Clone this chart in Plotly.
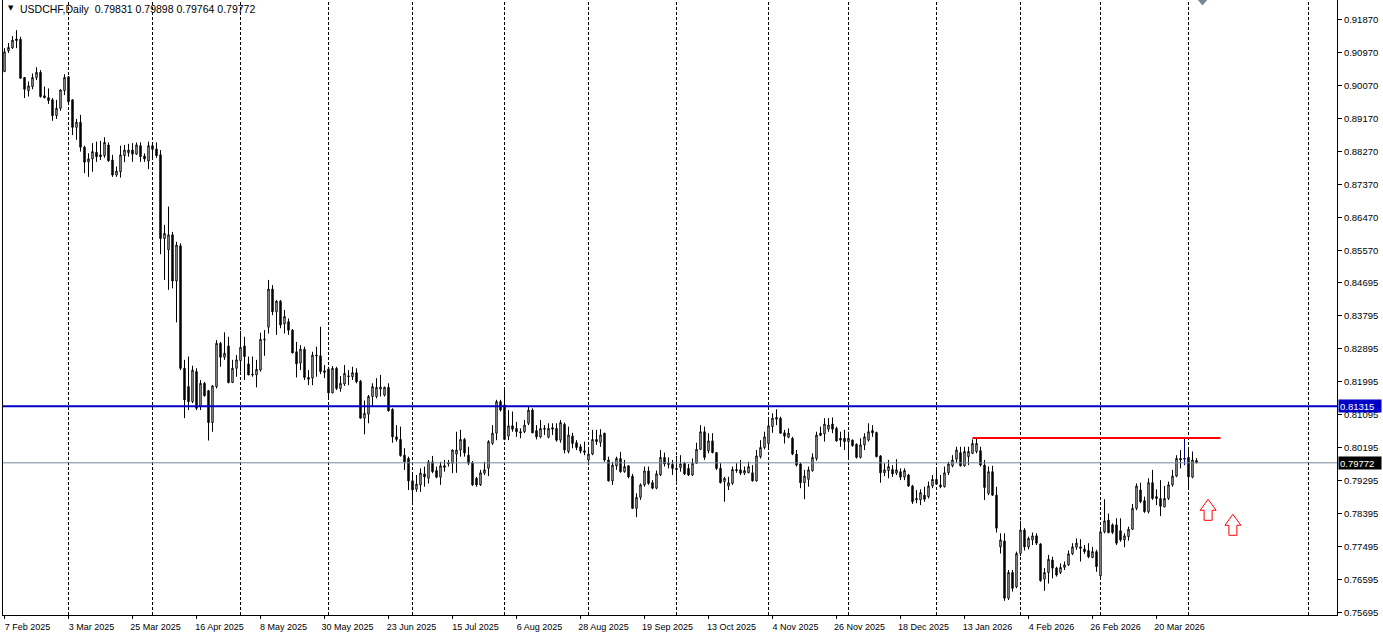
import plotly.graph_objects as go

symbol = "USDCHF,Daily"

opens = [
    0.9044, 0.9101, 0.9109, 0.9133, 0.9132, 0.9028, 0.8992, 0.9003, 0.9028, 0.9042,
    0.8978, 0.8973, 0.8967, 0.8924, 0.8944, 0.8992, 0.9030, 0.8967, 0.8892, 0.8906,
    0.8838, 0.8798, 0.8806, 0.8824, 0.8817, 0.8815, 0.8844, 0.8803, 0.8762, 0.8771,
    0.8815, 0.8823, 0.8830, 0.8819, 0.8842, 0.8814, 0.8800, 0.8842, 0.8833, 0.8817,
    0.8589, 0.8558, 0.8599, 0.8473, 0.8569, 0.8235, 0.8185, 0.8144, 0.8226, 0.8130,
    0.8194, 0.8174, 0.8087, 0.8185, 0.8303, 0.8265, 0.8296, 0.8196, 0.8235, 0.8256,
    0.8296, 0.8247, 0.8219, 0.8217, 0.8230, 0.8312, 0.8347, 0.8451, 0.8389, 0.8418,
    0.8356, 0.8362, 0.8339, 0.8280, 0.8249, 0.8287, 0.8210, 0.8208, 0.8271, 0.8269,
    0.8228, 0.8233, 0.8168, 0.8235, 0.8180, 0.8192, 0.8212, 0.8212, 0.8223, 0.8200,
    0.8099, 0.8110, 0.8158, 0.8158, 0.8178, 0.8162, 0.8183, 0.8123, 0.8048, 0.8041,
    0.7998, 0.7989, 0.7928, 0.7905, 0.7917, 0.7947, 0.7935, 0.7980, 0.7956, 0.7938,
    0.7969, 0.7974, 0.7976, 0.8001, 0.8012, 0.8041, 0.7998, 0.7977, 0.7935, 0.7917,
    0.7949, 0.7962, 0.8030, 0.8058, 0.8144, 0.8135, 0.8050, 0.8078, 0.8071, 0.8062,
    0.8062, 0.8085, 0.8121, 0.8065, 0.8048, 0.8071, 0.8047, 0.8073, 0.8071, 0.8039,
    0.8082, 0.8008, 0.8050, 0.8032, 0.8021, 0.8010, 0.7985, 0.8001, 0.8041, 0.8033,
    0.8058, 0.7985, 0.7928, 0.7969, 0.7989, 0.7953, 0.7969, 0.7941, 0.7853, 0.7883,
    0.7917, 0.7955, 0.7923, 0.7908, 0.7944, 0.7992, 0.7976, 0.7973, 0.7962, 0.7964,
    0.7976, 0.7962, 0.7944, 0.7976, 0.8014, 0.8062, 0.8010, 0.8037, 0.8005, 0.7962,
    0.7926, 0.7914, 0.7921, 0.7959, 0.7958, 0.7949, 0.7950, 0.7950, 0.7928, 0.7994,
    0.8019, 0.8030, 0.8076, 0.8096, 0.8099, 0.8059, 0.8047, 0.8044, 0.8001, 0.7974,
    0.7923, 0.7932, 0.7956, 0.7989, 0.8058, 0.8056, 0.8069, 0.8083, 0.8071, 0.8044,
    0.8044, 0.8035, 0.8039, 0.8028, 0.7992, 0.8026, 0.8039, 0.8065, 0.8060, 0.7996,
    0.7950, 0.7956, 0.7959, 0.7949, 0.7953, 0.7938, 0.7944, 0.7914, 0.7876, 0.7876,
    0.7889, 0.7885, 0.7914, 0.7932, 0.7917, 0.7912, 0.7950, 0.7969, 0.7987, 0.8005,
    0.7969, 0.7994, 0.8003, 0.8008, 0.8010, 0.7971, 0.7894, 0.7953, 0.7889, 0.7748,
    0.7764, 0.7608, 0.7678, 0.7639, 0.7730, 0.7794, 0.7748, 0.7767, 0.7778, 0.7756,
    0.7660, 0.7678, 0.7712, 0.7690, 0.7678, 0.7692, 0.7699, 0.7729, 0.7747, 0.7748,
    0.7742, 0.7738, 0.7719, 0.7735, 0.7669, 0.7789, 0.7821, 0.7808, 0.7808, 0.7792,
    0.7767, 0.7776, 0.7796, 0.7853, 0.7903, 0.7874, 0.7844, 0.7923, 0.7885, 0.7880,
    0.7857, 0.7880, 0.7917, 0.7941, 0.7989, 0.7989, 0.7992, 0.7938, 0.79831,
]

highs = [
    0.9108, 0.9122, 0.9141, 0.9157, 0.9139, 0.9029, 0.9017, 0.9039, 0.9056, 0.9048,
    0.9003, 0.8998, 0.8972, 0.8967, 0.8996, 0.9037, 0.9032, 0.8969, 0.8915, 0.8926,
    0.8842, 0.8821, 0.8849, 0.8853, 0.8855, 0.8865, 0.8851, 0.8817, 0.8785, 0.8842,
    0.8844, 0.8847, 0.8849, 0.8851, 0.8851, 0.8821, 0.8853, 0.8849, 0.8851, 0.8830,
    0.8626, 0.8676, 0.8607, 0.8580, 0.8576, 0.8258, 0.8267, 0.8242, 0.8235, 0.8203,
    0.8198, 0.8176, 0.8189, 0.8312, 0.8307, 0.8333, 0.8321, 0.8258, 0.8271, 0.8337,
    0.8321, 0.8267, 0.8267, 0.8258, 0.8332, 0.8339, 0.8476, 0.8462, 0.8421, 0.8421,
    0.8394, 0.8371, 0.8342, 0.8307, 0.8298, 0.8294, 0.8230, 0.8280, 0.8294, 0.8348,
    0.8244, 0.8239, 0.8241, 0.8239, 0.8214, 0.8244, 0.8230, 0.8239, 0.8235, 0.8203,
    0.8147, 0.8162, 0.8194, 0.8208, 0.8217, 0.8185, 0.8194, 0.8126, 0.8080, 0.8076,
    0.8017, 0.7994, 0.7949, 0.7944, 0.7962, 0.7967, 0.7985, 0.7996, 0.7967, 0.7980,
    0.7985, 0.7985, 0.8014, 0.8062, 0.8067, 0.8045, 0.8021, 0.7982, 0.7939, 0.7958,
    0.7980, 0.8039, 0.8080, 0.8149, 0.8149, 0.8181, 0.8121, 0.8117, 0.8089, 0.8071,
    0.8094, 0.8132, 0.8126, 0.8080, 0.8094, 0.8080, 0.8085, 0.8085, 0.8085, 0.8094,
    0.8087, 0.8076, 0.8059, 0.8039, 0.8028, 0.8035, 0.8017, 0.8067, 0.8067, 0.8069,
    0.8059, 0.7994, 0.7980, 0.7994, 0.8007, 0.7985, 0.7971, 0.7947, 0.7894, 0.7921,
    0.7967, 0.7967, 0.7930, 0.7956, 0.8012, 0.8005, 0.7992, 0.7985, 0.7996, 0.7998,
    0.7980, 0.7974, 0.7989, 0.8032, 0.8080, 0.8076, 0.8058, 0.8058, 0.8007, 0.7976,
    0.7939, 0.7939, 0.7967, 0.7976, 0.7985, 0.7967, 0.7980, 0.7971, 0.8012, 0.8039,
    0.8062, 0.8094, 0.8112, 0.8123, 0.8103, 0.8067, 0.8071, 0.8048, 0.8012, 0.7978,
    0.7958, 0.7967, 0.8003, 0.8062, 0.8076, 0.8099, 0.8099, 0.8101, 0.8076, 0.8062,
    0.8067, 0.8062, 0.8041, 0.8030, 0.8044, 0.8058, 0.8085, 0.8080, 0.8062, 0.7998,
    0.7976, 0.7985, 0.7971, 0.7987, 0.7962, 0.7962, 0.7947, 0.7917, 0.7903, 0.7905,
    0.7912, 0.7926, 0.7944, 0.7962, 0.7944, 0.7967, 0.7980, 0.7998, 0.8021, 0.8021,
    0.8021, 0.8021, 0.8041, 0.8045, 0.8021, 0.7985, 0.7967, 0.7969, 0.7912, 0.7785,
    0.7785, 0.7685, 0.7685, 0.7735, 0.7819, 0.7799, 0.7776, 0.7787, 0.7785, 0.7758,
    0.7690, 0.7726, 0.7721, 0.7694, 0.7703, 0.7708, 0.7738, 0.7758, 0.7771, 0.7769,
    0.7753, 0.7758, 0.7748, 0.7740, 0.7794, 0.7878, 0.7839, 0.7812, 0.7826, 0.7826,
    0.7785, 0.7803, 0.7865, 0.7921, 0.7923, 0.7885, 0.7935, 0.7958, 0.7905, 0.7930,
    0.7914, 0.7926, 0.7958, 0.7998, 0.8012, 0.8045, 0.8012, 0.8008, 0.79898,
]

lows = [
    0.9043, 0.9095, 0.9106, 0.9108, 0.9025, 0.8972, 0.8976, 0.8996, 0.9021, 0.8973,
    0.8971, 0.8956, 0.8910, 0.8915, 0.8937, 0.8980, 0.8953, 0.8871, 0.8858, 0.8826,
    0.8767, 0.8757, 0.8771, 0.8798, 0.8803, 0.8809, 0.8798, 0.8757, 0.8757, 0.8755,
    0.8797, 0.8812, 0.8798, 0.8817, 0.8798, 0.8798, 0.8778, 0.8808, 0.8809, 0.8546,
    0.8476, 0.8449, 0.8453, 0.8360, 0.8230, 0.8099, 0.8121, 0.8140, 0.8121, 0.8121,
    0.8158, 0.8038, 0.8062, 0.8180, 0.8239, 0.8258, 0.8194, 0.8195, 0.8212, 0.8226,
    0.8203, 0.8216, 0.8212, 0.8183, 0.8226, 0.8269, 0.8330, 0.8380, 0.8326, 0.8344,
    0.8330, 0.8326, 0.8276, 0.8210, 0.8230, 0.8203, 0.8189, 0.8189, 0.8212, 0.8219,
    0.8208, 0.8153, 0.8167, 0.8176, 0.8171, 0.8187, 0.8189, 0.8203, 0.8194, 0.8098,
    0.8055, 0.8085, 0.8132, 0.8153, 0.8158, 0.8158, 0.8117, 0.8032, 0.8035, 0.7994,
    0.7958, 0.7903, 0.7871, 0.7898, 0.7898, 0.7912, 0.7921, 0.7949, 0.7935, 0.7917,
    0.7953, 0.7967, 0.7949, 0.7950, 0.7994, 0.7994, 0.7971, 0.7914, 0.7912, 0.7914,
    0.7944, 0.7941, 0.8026, 0.8039, 0.8117, 0.8039, 0.8039, 0.8062, 0.8048, 0.8044,
    0.8058, 0.8080, 0.8058, 0.8041, 0.8044, 0.8053, 0.8044, 0.8053, 0.8035, 0.8032,
    0.8003, 0.8003, 0.8017, 0.8012, 0.8003, 0.7998, 0.7980, 0.7998, 0.8026, 0.8021,
    0.7980, 0.7926, 0.7917, 0.7958, 0.7950, 0.7950, 0.7935, 0.7852, 0.7829, 0.7876,
    0.7912, 0.7917, 0.7905, 0.7905, 0.7941, 0.7967, 0.7962, 0.7944, 0.7926, 0.7953,
    0.7944, 0.7941, 0.7941, 0.7974, 0.8012, 0.7985, 0.8003, 0.8003, 0.7958, 0.7921,
    0.7871, 0.7903, 0.7917, 0.7950, 0.7944, 0.7944, 0.7949, 0.7926, 0.7926, 0.7989,
    0.8014, 0.8012, 0.8059, 0.8080, 0.8056, 0.8030, 0.8044, 0.7998, 0.7967, 0.7908,
    0.7878, 0.7912, 0.7953, 0.7983, 0.8050, 0.8035, 0.8062, 0.8058, 0.8035, 0.8021,
    0.8012, 0.7989, 0.8021, 0.7989, 0.7989, 0.8012, 0.8035, 0.8048, 0.7992, 0.7923,
    0.7941, 0.7935, 0.7939, 0.7944, 0.7930, 0.7930, 0.7912, 0.7865, 0.7867, 0.7862,
    0.7871, 0.7880, 0.7908, 0.7917, 0.7908, 0.7910, 0.7944, 0.7965, 0.7977, 0.7967,
    0.7967, 0.7971, 0.8001, 0.8003, 0.7967, 0.7876, 0.7889, 0.7887, 0.7787, 0.7730,
    0.7601, 0.7603, 0.7626, 0.7635, 0.7723, 0.7738, 0.7741, 0.7753, 0.7753, 0.7653,
    0.7628, 0.7648, 0.7662, 0.7667, 0.7674, 0.7685, 0.7696, 0.7726, 0.7740, 0.7708,
    0.7729, 0.7717, 0.7717, 0.7680, 0.7662, 0.7785, 0.7785, 0.7783, 0.7753, 0.7762,
    0.7747, 0.7765, 0.7794, 0.7848, 0.7867, 0.7841, 0.7839, 0.7876, 0.7862, 0.7832,
    0.7856, 0.7876, 0.7912, 0.7938, 0.7962, 0.7971, 0.7905, 0.7935, 0.79764,
]

closes = [
    0.9098, 0.9110, 0.9130, 0.9129, 0.9026, 0.8996, 0.9005, 0.9028, 0.9042, 0.8976,
    0.8973, 0.8965, 0.8924, 0.8944, 0.8994, 0.9028, 0.8962, 0.8892, 0.8906, 0.8838,
    0.8797, 0.8806, 0.8826, 0.8812, 0.8812, 0.8851, 0.8801, 0.8762, 0.8773, 0.8817,
    0.8830, 0.8830, 0.8819, 0.8844, 0.8812, 0.8806, 0.8842, 0.8832, 0.8815, 0.8589,
    0.8603, 0.8599, 0.8473, 0.8571, 0.8235, 0.8149, 0.8144, 0.8230, 0.8126, 0.8194,
    0.8160, 0.8087, 0.8187, 0.8303, 0.8265, 0.8276, 0.8196, 0.8235, 0.8258, 0.8292,
    0.8267, 0.8217, 0.8217, 0.8232, 0.8314, 0.8314, 0.8451, 0.8389, 0.8418, 0.8353,
    0.8376, 0.8339, 0.8277, 0.8247, 0.8287, 0.8210, 0.8205, 0.8271, 0.8269, 0.8226,
    0.8224, 0.8168, 0.8235, 0.8180, 0.8194, 0.8221, 0.8214, 0.8223, 0.8198, 0.8099,
    0.8112, 0.8158, 0.8185, 0.8183, 0.8184, 0.8183, 0.8119, 0.8048, 0.8041, 0.7997,
    0.7980, 0.7928, 0.7903, 0.7919, 0.7949, 0.7939, 0.7980, 0.7953, 0.7938, 0.7969,
    0.7965, 0.7978, 0.8012, 0.8012, 0.8041, 0.8004, 0.7976, 0.7917, 0.7917, 0.7950,
    0.7958, 0.8035, 0.8058, 0.8144, 0.8121, 0.8041, 0.8078, 0.8069, 0.8062, 0.8059,
    0.8080, 0.8121, 0.8059, 0.8048, 0.8071, 0.8069, 0.8071, 0.8069, 0.8039, 0.8087,
    0.8012, 0.8053, 0.8030, 0.8019, 0.8009, 0.8006, 0.8001, 0.8041, 0.8035, 0.8053,
    0.7985, 0.7928, 0.7971, 0.7989, 0.7953, 0.7967, 0.7939, 0.7853, 0.7883, 0.7917,
    0.7955, 0.7921, 0.7908, 0.7947, 0.7992, 0.7974, 0.7973, 0.7962, 0.7959, 0.7974,
    0.7947, 0.7944, 0.7976, 0.8014, 0.8062, 0.7992, 0.8037, 0.8005, 0.7962, 0.7923,
    0.7935, 0.7923, 0.7959, 0.7956, 0.7949, 0.7956, 0.7967, 0.7928, 0.7996, 0.8019,
    0.8048, 0.8078, 0.8099, 0.8101, 0.8058, 0.8050, 0.8058, 0.8001, 0.7971, 0.7923,
    0.7941, 0.7958, 0.7992, 0.8053, 0.8052, 0.8083, 0.8080, 0.8069, 0.8037, 0.8039,
    0.8035, 0.8044, 0.8024, 0.7992, 0.8026, 0.8048, 0.8062, 0.8059, 0.7994, 0.7950,
    0.7958, 0.7967, 0.7947, 0.7958, 0.7938, 0.7956, 0.7914, 0.7871, 0.7880, 0.7896,
    0.7878, 0.7914, 0.7932, 0.7919, 0.7912, 0.7950, 0.7974, 0.7985, 0.8012, 0.7969,
    0.8008, 0.8008, 0.8030, 0.8030, 0.7971, 0.7910, 0.7953, 0.7889, 0.7799, 0.7767,
    0.7608, 0.7678, 0.7635, 0.7730, 0.7794, 0.7748, 0.7771, 0.7778, 0.7758, 0.7656,
    0.7678, 0.7714, 0.7690, 0.7671, 0.7692, 0.7699, 0.7729, 0.7748, 0.7758, 0.7744,
    0.7735, 0.7721, 0.7735, 0.7694, 0.7789, 0.7819, 0.7787, 0.7787, 0.7758, 0.7767,
    0.7778, 0.7796, 0.7853, 0.7914, 0.7871, 0.7844, 0.7923, 0.7880, 0.7880, 0.7859,
    0.7880, 0.7917, 0.7941, 0.7989, 0.7985, 0.7988, 0.7939, 0.7985, 0.79772,
]

# date labels under the chart (one every 16 bars)
date_labels = [
    "7 Feb 2025", "3 Mar 2025", "25 Mar 2025", "16 Apr 2025", "8 May 2025",
    "30 May 2025", "23 Jun 2025", "15 Jul 2025", "6 Aug 2025", "28 Aug 2025",
    "19 Sep 2025", "13 Oct 2025", "4 Nov 2025", "26 Nov 2025", "18 Dec 2025",
    "13 Jan 2026", "4 Feb 2026", "26 Feb 2026", "20 Mar 2026",
]
date_label_step = 16

# price scale labels
price_ticks = [
    0.91870, 0.90970, 0.90070, 0.89170, 0.88270, 0.87370, 0.86470, 0.85570,
    0.84695, 0.83795, 0.82895, 0.81995, 0.81095, 0.80195, 0.79295, 0.78395,
    0.77495, 0.76595, 0.75695,
]

# bars where a new month starts (vertical grid separators)
month_start_bars = [16, 37, 59, 81, 102, 125, 146, 168, 191, 211, 233, 254, 274, 296, 326]

# chart objects
support_level = 0.81315          # blue horizontal line
resistance_level = 0.80449       # red segment
resistance_span = [242, 304]     # bars covered by the red segment
highlight_bar = 295              # navy doji
arrow_bars = [300.9, 307.1]
arrow_prices = [0.78777, 0.78368]
shift_marker_bar = 299.5

y_top, y_bottom = 0.92393, 0.75622

n = len(opens)
xs = list(range(n))

fig = go.Figure()
fig.add_trace(go.Candlestick(
    x=xs, open=opens, high=highs, low=lows, close=closes,
    increasing=dict(line=dict(color="black", width=1), fillcolor="white"),
    decreasing=dict(line=dict(color="black", width=1), fillcolor="black"),
    whiskerwidth=0, hoverinfo="skip", showlegend=False,
))
hb = highlight_bar
fig.add_trace(go.Candlestick(
    x=[hb], open=[opens[hb]], high=[highs[hb]], low=[lows[hb]], close=[closes[hb]],
    increasing=dict(line=dict(color="#000080", width=1), fillcolor="#000080"),
    decreasing=dict(line=dict(color="#000080", width=1), fillcolor="#000080"),
    whiskerwidth=0, hoverinfo="skip", showlegend=False,
))

shapes = []
for b in month_start_bars:
    shapes.append(dict(type="line", xref="x", yref="paper", x0=b, x1=b, y0=0, y1=1,
                       line=dict(color="black", width=1, dash="3px,2px"), layer="below"))
# current price line
shapes.append(dict(type="line", xref="paper", yref="y", x0=0, x1=1,
                   y0=closes[-1], y1=closes[-1], line=dict(color="#778899", width=1)))
# support line
shapes.append(dict(type="line", xref="paper", yref="y", x0=0, x1=1,
                   y0=support_level, y1=support_level, line=dict(color="#0000C8", width=2)))
# resistance segment
shapes.append(dict(type="line", xref="x", yref="y", x0=resistance_span[0], x1=resistance_span[1],
                   y0=resistance_level, y1=resistance_level, line=dict(color="#FF0000", width=2)))
# up arrows
arrow_path = "M0,0 L8,-11 L4,-11 L4,-21 L-4,-21 L-4,-11 L-8,-11 Z"
for ab, ap in zip(arrow_bars, arrow_prices):
    shapes.append(dict(type="path", xref="x", yref="y", xsizemode="pixel", ysizemode="pixel",
                       xanchor=ab, yanchor=ap, path=arrow_path,
                       line=dict(color="#FF0000", width=1), fillcolor="white"))
# chart shift marker
shapes.append(dict(type="path", xref="x", yref="paper", xsizemode="pixel", ysizemode="pixel",
                   xanchor=shift_marker_bar, yanchor=1, path="M-4,0 L4,0 L0,-5 Z",
                   line=dict(color="#7A8899", width=1), fillcolor="#7A8899"))

font_family = "Liberation Sans, Arial, sans-serif"
nb = "\u00a0"
header = (f"{symbol}{nb}{nb}{opens[-1]:.5f}{nb}{highs[-1]:.5f}"
          f"{nb}{lows[-1]:.5f}{nb}{closes[-1]:.5f}")

annotations = [
    dict(xref="paper", yref="paper", x=0, y=1, xanchor="left", yanchor="top",
         xshift=3, yshift=-2, text="\u25BC", showarrow=False,
         font=dict(family="DejaVu Sans", size=7, color="black")),
    dict(xref="paper", yref="paper", x=0, y=1, xanchor="left", yanchor="top",
         xshift=15, yshift=-1, text=header, showarrow=False,
         font=dict(family=font_family, size=10.5, color="black")),
    dict(xref="paper", yref="y", x=1, y=support_level, xanchor="left", yanchor="middle",
         xshift=1, text=f"{support_level:.5f}", showarrow=False, bgcolor="#0000C8",
         width=40, height=10, align="left", borderpad=1,
         font=dict(family=font_family, size=9.5, color="white")),
    dict(xref="paper", yref="y", x=1, y=closes[-1], xanchor="left", yanchor="middle",
         xshift=1, text=f"{closes[-1]:.5f}", showarrow=False, bgcolor="black",
         width=40, height=10, align="left", borderpad=1,
         font=dict(family=font_family, size=9.5, color="white")),
]

fig.update_layout(
    width=1383, height=640,
    margin=dict(l=3, r=46, t=0, b=25),
    paper_bgcolor="white", plot_bgcolor="white",
    boxgap=0.5, showlegend=False, hovermode=False,
    font=dict(family=font_family, size=9.5, color="black"),
    shapes=shapes, annotations=annotations,
    xaxis=dict(
        range=[-0.375, 333.125], rangeslider=dict(visible=False),
        showgrid=False, zeroline=False,
        tickmode="array",
        tickvals=[i * date_label_step for i in range(len(date_labels))],
        ticktext=date_labels, ticks="outside", ticklen=3, tickcolor="black",
        ticklabelshift=23, tickfont=dict(size=9),
        showline=True, linecolor="black", linewidth=1, mirror=True,
    ),
    yaxis=dict(
        side="right", range=[y_bottom, y_top], showgrid=False, zeroline=False,
        tickmode="array", tickvals=price_ticks,
        ticktext=[f"{v:.5f}" for v in price_ticks],
        ticks="outside", ticklen=4, tickcolor="black",
        showline=True, linecolor="black", linewidth=1, mirror=True,
    ),
)

fig.write_html(
    "out.html",
    config={"displayModeBar": False},
    post_script="document.body.style.margin='0px';document.body.style.overflow='hidden';",
)
